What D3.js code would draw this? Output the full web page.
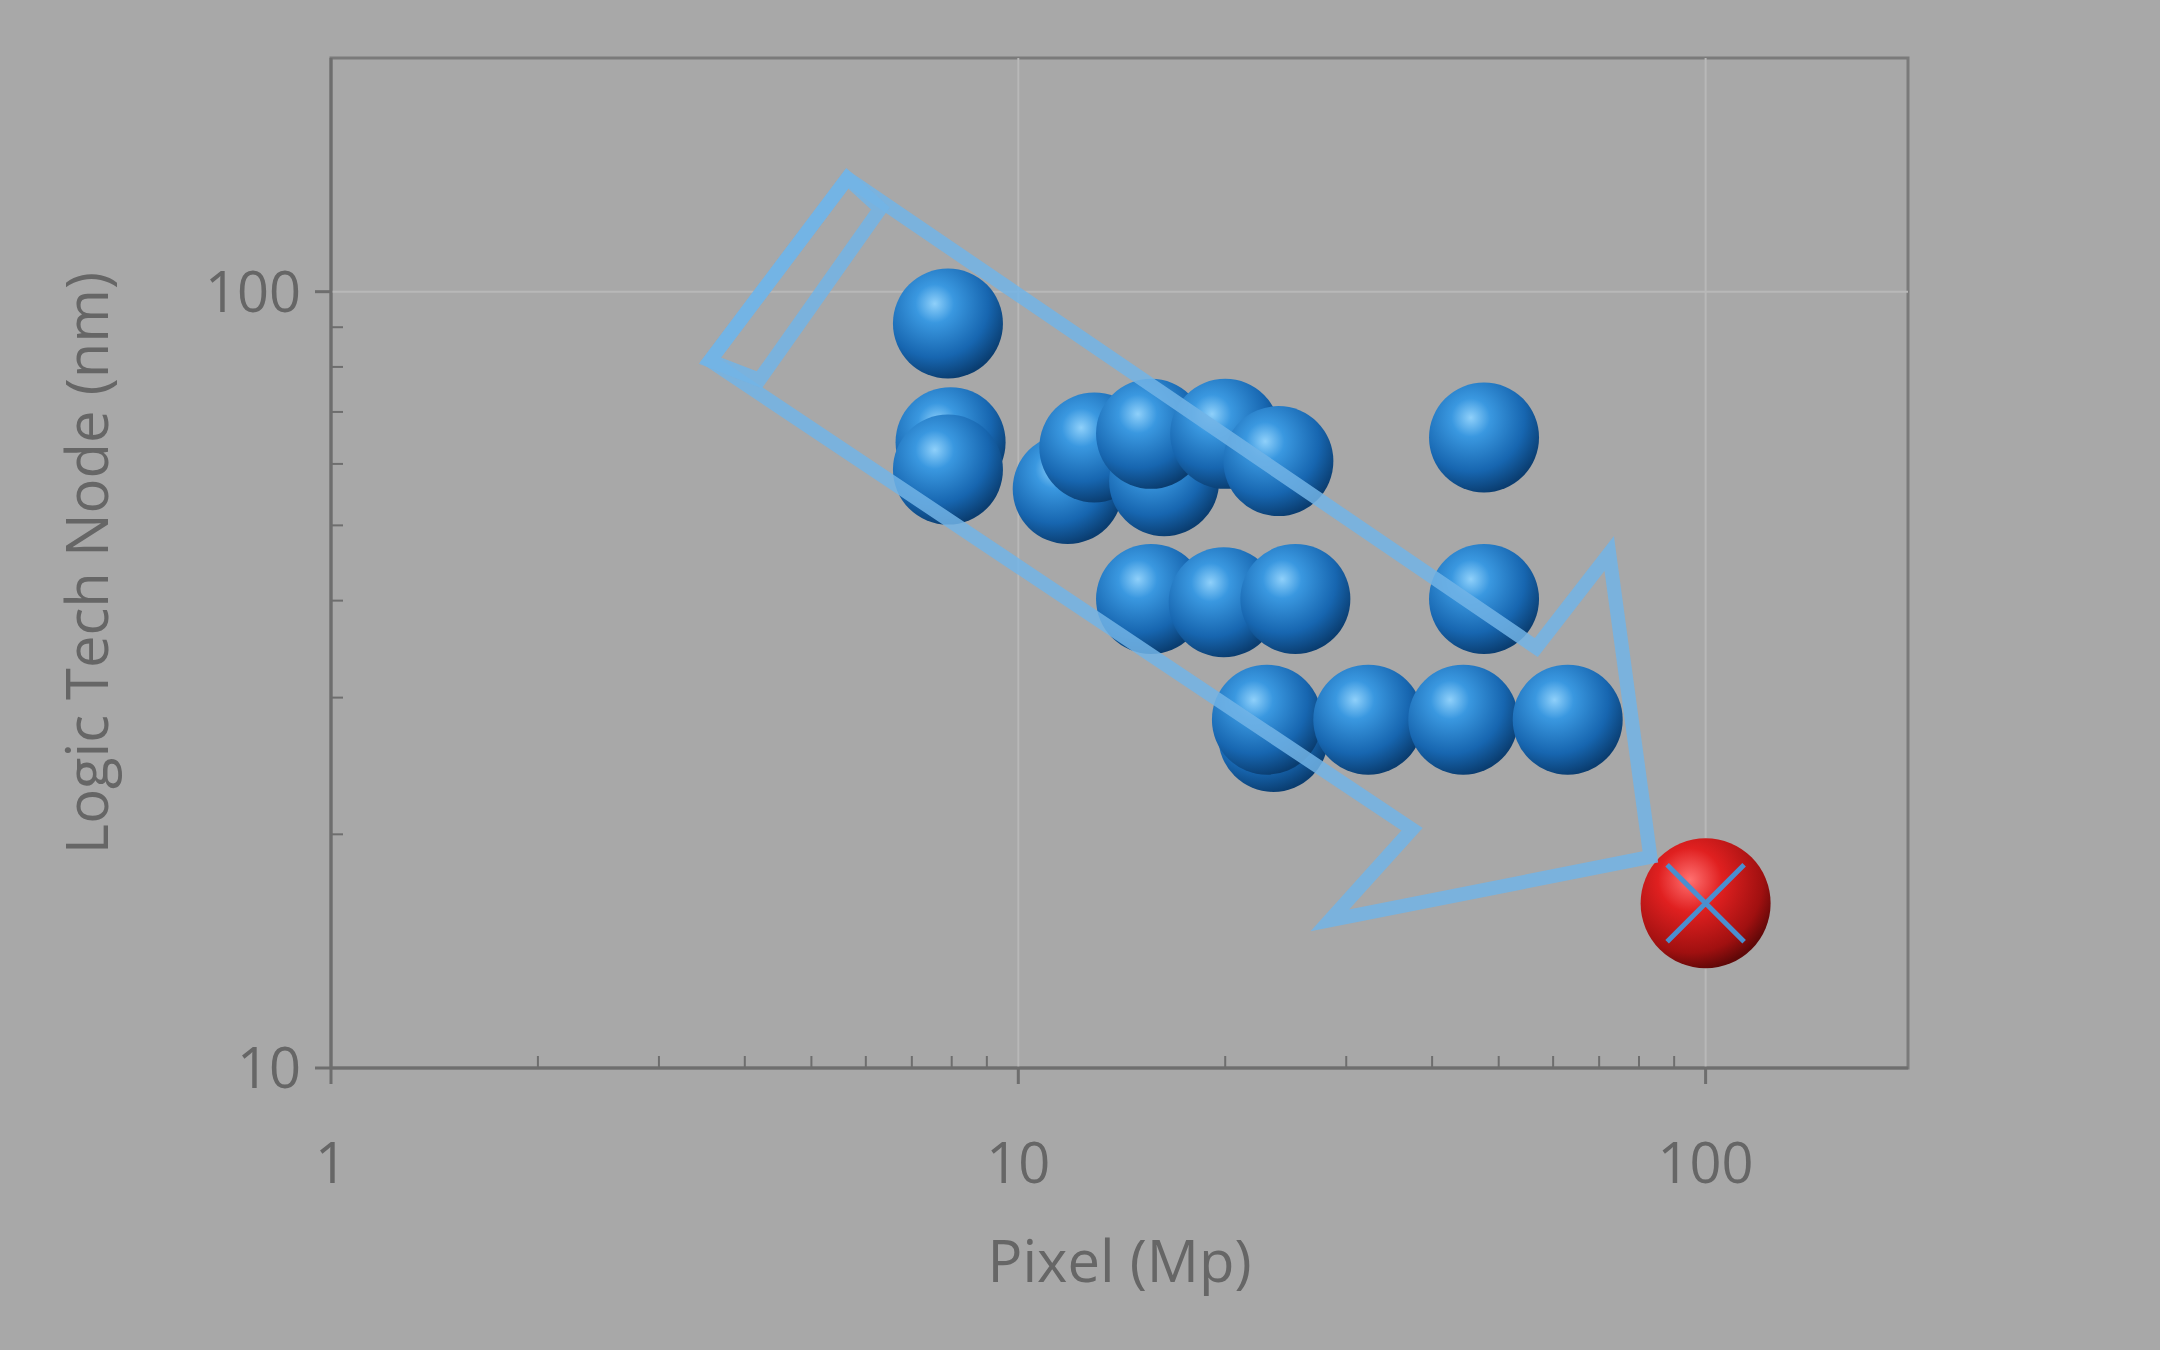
<!DOCTYPE html><html><head><script src="https://cdn.jsdelivr.net/npm/d3@7"></script>
<style>body{margin:0;background:#a8a8a8}</style></head><body><svg id="c" width="2160" height="1350"></svg>
<script>
const pixelMp=[7.9,7.97,7.9,11.8,12.9,16.3,15.6,20,23.9,47.6,15.6,19.9,25.3,47.6,23.5,23,32.3,44.4,63];
const techNm=[91,64,59,55.7,63,57,65.6,65.6,60.5,64.9,40.2,39.8,40.2,40.2,26.7,28.1,28.1,28.1,28.1];
const targetX=[100], targetY=[16.3];
const arrowX=[3.56,5.64,56.7,72.4,83.1,28.4,37.4];
const arrowY=[81.5,140,34.8,46,18.7,15.5,20.3];
const tailX=[4.2,6.3], tailY=[77,128];
const xTicks=[1,10,100], yTicks=[10,100];
const L=331,R=1908,T=58,B=1068;
const svg=d3.select("#c");
svg.append("rect").attr("width",2160).attr("height",1350).attr("fill","#a8a8a8");
const x=d3.scaleLog().domain([1,197]).range([L,R]);
const y=d3.scaleLog().domain([10,200]).range([B,T]);
const defs=svg.append("defs");
function grad(id,c){const g=defs.append("radialGradient").attr("id",id).attr("cx","38%").attr("cy","32%").attr("r","70%");
c.forEach((s,i)=>g.append("stop").attr("offset",s[0]).attr("stop-color",s[1]));}
grad("blue",[["0%","#8fd0fa"],["25%","#3a98e0"],["70%","#1766b0"],["100%","#0a3d70"]]);
grad("red",[["0%","#ff7070"],["35%","#e02020"],["80%","#a01010"],["100%","#600808"]]);
svg.append("rect").attr("x",L).attr("y",T).attr("width",R-L).attr("height",B-T).attr("fill","none").attr("stroke","#7a7a7a").attr("stroke-width",3);
const g=svg.append("g");
xTicks.forEach(t=>g.append("line").attr("x1",x(t)).attr("x2",x(t)).attr("y1",T).attr("y2",B).attr("stroke","#b8b8b8").attr("stroke-width",2));
yTicks.forEach(t=>g.append("line").attr("x1",L).attr("x2",R).attr("y1",y(t)).attr("y2",y(t)).attr("stroke","#b8b8b8").attr("stroke-width",2));
svg.append("line").attr("x1",L).attr("x2",R).attr("y1",B).attr("y2",B).attr("stroke","#6e6e6e").attr("stroke-width",3);
svg.append("line").attr("x1",L).attr("x2",L).attr("y1",T).attr("y2",B).attr("stroke","#6e6e6e").attr("stroke-width",3);
const minorX=[];for(const d of [1,10,100])for(let k=2;k<=9;k++)if(d*k<197)minorX.push(d*k);
minorX.forEach(t=>svg.append("line").attr("x1",x(t)).attr("x2",x(t)).attr("y1",B).attr("y2",B-12).attr("stroke","#6e6e6e").attr("stroke-width",2));
[1,10,100].forEach(t=>svg.append("line").attr("x1",x(t)).attr("x2",x(t)).attr("y1",B).attr("y2",B+16).attr("stroke","#6e6e6e").attr("stroke-width",3));
const minorY=[];for(const d of [10,100])for(let k=2;k<=9;k++)if(d*k<200)minorY.push(d*k);
minorY.forEach(t=>svg.append("line").attr("x1",L).attr("x2",L+12).attr("y1",y(t)).attr("y2",y(t)).attr("stroke","#6e6e6e").attr("stroke-width",2));
yTicks.forEach(t=>svg.append("line").attr("x1",L-16).attr("x2",L).attr("y1",y(t)).attr("y2",y(t)).attr("stroke","#6e6e6e").attr("stroke-width",3));
const tf="'Open Sans',Calibri,sans-serif";
xTicks.forEach(t=>svg.append("text").attr("x",x(t)).attr("y",B+115).attr("text-anchor","middle").attr("font-family",tf).attr("font-size",56).attr("fill","#666").text(t));
yTicks.forEach(t=>svg.append("text").attr("x",L-30).attr("y",y(t)+20).attr("text-anchor","end").attr("font-family",tf).attr("font-size",56).attr("fill","#666").text(t));
svg.append("text").attr("x",(L+R)/2).attr("y",1282).attr("text-anchor","middle").attr("font-family",tf).attr("font-size",58).attr("fill","#666").text("Pixel (Mp)");
svg.append("text").attr("transform",`translate(108,${(T+B)/2}) rotate(-90)`).attr("text-anchor","middle").attr("font-family",tf).attr("font-size",58).attr("fill","#666").text("Logic Tech Node (nm)");
const r=55;
pixelMp.forEach((d,i)=>svg.append("circle").attr("cx",x(d)).attr("cy",y(techNm[i])).attr("r",r).attr("fill","url(#blue)"));
targetX.forEach((d,i)=>{const cx=x(d),cy=y(targetY[i]);
svg.append("circle").attr("cx",cx).attr("cy",cy).attr("r",r+10).attr("fill","url(#red)");
const o=r*0.7;
svg.append("path").attr("d",`M${cx-o},${cy-o}L${cx+o},${cy+o}M${cx+o},${cy-o}L${cx-o},${cy+o}`).attr("stroke","#4a8fd0").attr("stroke-width",5);});
const pts=arrowX.map((d,i)=>[x(d),y(arrowY[i])]);
svg.append("path").attr("d",d3.line()(pts)+"Z").attr("fill","none").attr("stroke","#72b4e6").attr("stroke-opacity",0.85).attr("stroke-width",14).attr("stroke-linejoin","miter");
const tq=[pts[0],pts[1],[x(tailX[1]),y(tailY[1])],[x(tailX[0]),y(tailY[0])]];
svg.append("path").attr("d",d3.line()(tq)+"Z").attr("fill","none").attr("stroke","#72b4e6").attr("stroke-opacity",0.85).attr("stroke-width",14);
</script></body></html>
